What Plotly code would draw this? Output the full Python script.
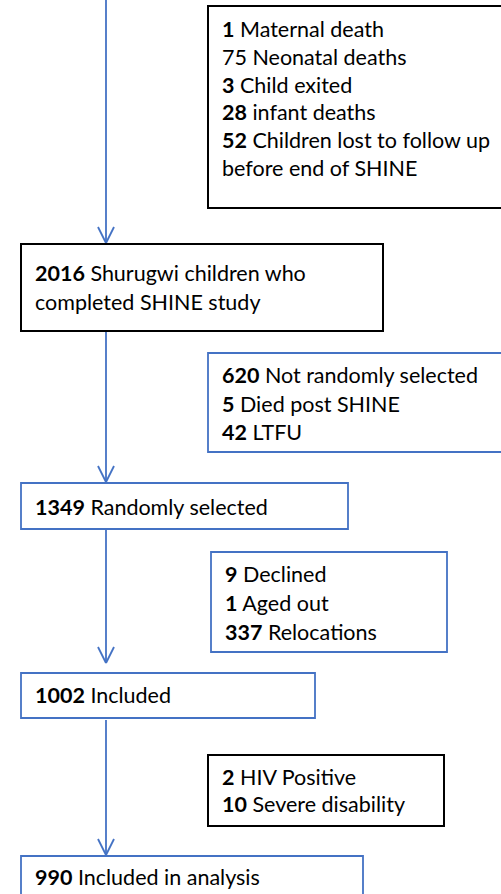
import plotly.graph_objects as go

# ---- data ----
main_counts = [2016, 1349, 1002, 990]
main_labels = [["Shurugwi children who", "completed SHINE study"], ["Randomly selected"], ["Included"], ["Included in analysis"]]

excl1_counts = ["1", "75", "3", "28", "52", ""]
excl1_labels = ["Maternal death", "Neonatal deaths", "Child exited", "infant deaths", "Children lost to follow up", "before end of SHINE"]
excl1_bold = [True, False, True, True, True, False]
excl2_counts = ["620", "5", "42"]
excl2_labels = ["Not randomly selected", "Died post SHINE", "LTFU"]
excl3_counts = ["9", "1", "337"]
excl3_labels = ["Declined", "Aged out", "Relocations"]
excl4_counts = ["2", "10"]
excl4_labels = ["HIV Positive", "Severe disability"]

# ---- layout geometry (pixels) ----
W, H = 501, 894
BLUE = "#4472C4"
BLACK = "#000000"
FONT = "Lato"
FS = 21.5

shapes = []
annotations = []

def rect(x0, y0, x1, y1, color, width):
    shapes.append(dict(type="rect", x0=x0, y0=y0, x1=x1, y1=y1, xref="x", yref="y",
                       line=dict(color=color, width=width), fillcolor="rgba(0,0,0,0)"))

def line(x0, y0, x1, y1):
    shapes.append(dict(type="line", x0=x0, y0=y0, x1=x1, y1=y1, xref="x", yref="y",
                       line=dict(color=BLUE, width=1.8)))

def arrow(x, y0, y1):
    line(x, y0, x, y1)
    line(x - 8, y1 - 16, x, y1)
    line(x + 8, y1 - 16, x, y1)

def text(x, y, num, label, bold=True, size=FS):
    if num:
        t = (f"<b>{num}</b> " if bold else f"{num} ") + label
    else:
        t = label
    annotations.append(dict(x=x, y=y, xref="x", yref="y", text=t, showarrow=False,
                            xanchor="left", yanchor="middle", xshift=-2,
                            font=dict(family=FONT, size=size, color="black")))

AX = 106
# arrows
arrow(AX, 0, 243)
arrow(AX, 331, 482)
arrow(AX, 529, 663)
arrow(AX, 720, 855)

# exclusion box 1
rect(208, 6, 510, 208, BLACK, 2)
for i, (c, l, b) in enumerate(zip(excl1_counts, excl1_labels, excl1_bold)):
    text(222, 29 + i * 27.8, c, l, b)

# main box 1
rect(21, 244, 383, 331, BLACK, 2)
text(35, 273, str(main_counts[0]), main_labels[0][0])
text(35, 302, "", main_labels[0][1])

# exclusion box 2
rect(208, 353, 510, 452, BLUE, 1.8)
for i, (c, l) in enumerate(zip(excl2_counts, excl2_labels)):
    text(222, 375 + i * 28.5, c, l)

# main box 2
rect(21, 483, 348, 529, BLUE, 1.8)
text(35, 507, str(main_counts[1]), main_labels[1][0])

# exclusion box 3
rect(211, 552, 447, 652, BLUE, 1.8)
for i, (c, l) in enumerate(zip(excl3_counts, excl3_labels)):
    text(225, 574 + i * 29, c, l)

# main box 3
rect(21, 673, 315, 718, BLUE, 1.8)
text(35, 695, str(main_counts[2]), main_labels[2][0])

# exclusion box 4
rect(208, 755, 444, 826, BLACK, 2)
for i, (c, l) in enumerate(zip(excl4_counts, excl4_labels)):
    text(222, 777 + i * 27, c, l)

# main box 4
rect(21, 856, 363, 910, BLUE, 1.8)
text(35, 877, str(main_counts[3]), main_labels[3][0])

fig = go.Figure()
fig.update_layout(
    width=W, height=H, margin=dict(l=0, r=0, t=0, b=0),
    paper_bgcolor="white", plot_bgcolor="white",
    xaxis=dict(range=[0, W], visible=False, fixedrange=True),
    yaxis=dict(range=[H, 0], visible=False, fixedrange=True),
    shapes=shapes, annotations=annotations, showlegend=False,
)
fig.write_html("out.html", config={"displayModeBar": False},
               post_script="document.body.style.margin='0';document.body.style.overflow='hidden';")
